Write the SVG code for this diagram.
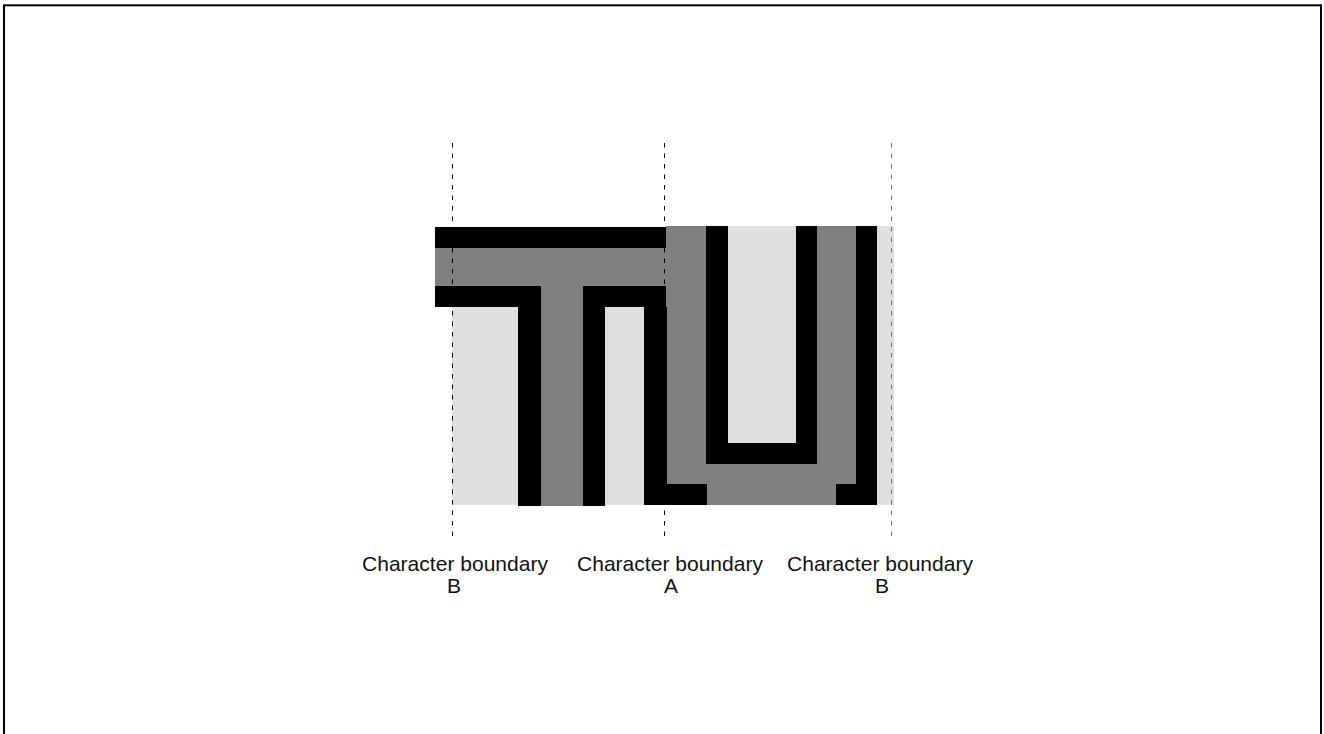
<svg xmlns="http://www.w3.org/2000/svg" width="1324" height="734" viewBox="0 0 1324 734">
  <style>
    .blk { fill: #000000; }
    .gry { fill: #808080; }
    .lgt { fill: #dfdfdf; }
    .bnd { stroke: #000000; stroke-width: 1; stroke-dasharray: 4.5 6; fill: none; }
    .lbl { font-family: "Liberation Sans", Arial, sans-serif; font-size: 21px; fill: #111111; text-anchor: middle; }
  </style>
  <rect x="4" y="5.3" width="1317" height="800" fill="#ffffff" stroke="#000000" stroke-width="2"/>

  <g id="background-fills">
    <rect class="lgt" x="452" y="307" width="66" height="198"/>
    <rect class="lgt" x="605" y="307" width="39" height="198"/>
    <rect class="lgt" x="877" y="226" width="17" height="279"/>
  </g>

  <g id="glyph-T">
    <rect class="gry" x="435" y="248" width="231" height="38"/>
    <rect class="gry" x="541" y="286" width="42" height="220"/>
    <rect class="blk" x="435" y="227" width="231" height="21"/>
    <rect class="blk" x="435" y="286" width="106" height="21"/>
    <rect class="blk" x="518" y="286" width="23" height="220"/>
    <rect class="blk" x="583" y="286" width="83" height="21"/>
    <rect class="blk" x="583" y="286" width="22" height="220"/>
    <rect class="blk" x="644" y="286" width="23" height="219"/>
    <rect class="blk" x="644" y="484" width="63" height="21"/>
  </g>

  <g id="glyph-U">
    <rect class="gry" x="666" y="226" width="190" height="279"/>
    <rect class="blk" x="644" y="484" width="63" height="21"/>
    <rect class="blk" x="644" y="307" width="23" height="198"/>
    <rect class="lgt" x="728" y="226" width="68" height="217"/>
    <rect class="blk" x="706" y="226" width="22" height="238"/>
    <rect class="blk" x="796" y="226" width="21" height="238"/>
    <rect class="blk" x="706" y="443" width="111" height="21"/>
    <rect class="blk" x="856" y="226" width="21" height="279"/>
    <rect class="blk" x="836" y="484" width="41" height="21"/>
  </g>

  <g id="connectors">
    <line class="bnd" x1="452.5" y1="143" x2="452.5" y2="542"/>
    <line class="bnd" x1="664.5" y1="143" x2="664.5" y2="542"/>
    <line class="bnd" x1="891.5" y1="143" x2="891.5" y2="542" style="stroke:#707070"/>
  </g>

  <g id="label-B-left">
    <text class="lbl" x="455" y="571" textLength="186" lengthAdjust="spacingAndGlyphs">Character boundary</text>
    <text class="lbl" x="454" y="593">B</text>
  </g>
  <g id="label-A">
    <text class="lbl" x="670" y="571" textLength="186" lengthAdjust="spacingAndGlyphs">Character boundary</text>
    <text class="lbl" x="671" y="593">A</text>
  </g>
  <g id="label-B-right">
    <text class="lbl" x="880" y="571" textLength="186" lengthAdjust="spacingAndGlyphs">Character boundary</text>
    <text class="lbl" x="882" y="593">B</text>
  </g>
</svg>
